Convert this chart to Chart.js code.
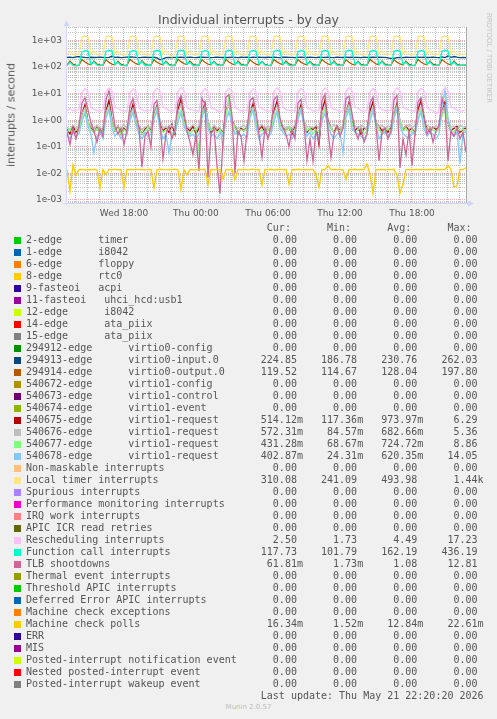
<!DOCTYPE html>
<html>
<head>
<meta charset="utf-8">
<title>Individual interrupts - by day</title>
<script src="https://cdn.jsdelivr.net/npm/chart.js@4.4.1/dist/chart.umd.min.js"></script>
<style>
  body { margin: 0; background: #f0f0f0; width: 497px; height: 719px; position: relative; overflow: hidden; font-family: 'DejaVu Sans', sans-serif; color: #555; }
  #plot { position: absolute; left: 0; top: 0; }
  .abs { position: absolute; white-space: pre; }
  #title { left: 0; width: 497px; top: 12px; line-height: 15px; font-size: 12.5px; text-align: center; }
  #ylabel { left: 11px; top: 115px; font-size: 11px; transform: translate(-50%, -50%) rotate(-90deg); }
  #mark { left: 489px; top: 58px; font-size: 7px; color: #c4c4c4; transform: translate(-50%, -50%) rotate(90deg); }
  #legend { left: 26px; top: 222px; margin: 0; font: 10px/12px 'DejaVu Sans Mono', monospace; color: #555; }
  .box { position: absolute; left: 14px; width: 7px; height: 7px; }
  #munin { left: 0; width: 497px; top: 703px; font-size: 7px; text-align: center; color: #bdbdbd; }
</style>
</head>
<body>
<canvas id="plot" width="497" height="225"></canvas>
<div id="title" class="abs">Individual interrupts - by day</div>
<div id="ylabel" class="abs">interrupts / second</div>
<div id="mark" class="abs">RRDTOOL / TOBI OETIKER</div>
<pre id="legend" class="abs"></pre>
<div id="munin" class="abs">Munin 2.0.57</div>
<script>
// samples every 15 minutes, hours counted from Wed 00:00
const startHour = 13.25;
const stepHours = 0.25;

const xTickHours = [18, 24, 30, 36, 42];
const xTickLabels = ['Wed 18:00', 'Thu 00:00', 'Thu 06:00', 'Thu 12:00', 'Thu 18:00'];
const yTickValues = [1e-3, 1e-2, 1e-1, 1, 10, 100, 1000];
const yTickLabels = ['1e-03', '1e-02', '1e-01', '1e+00', '1e+01', '1e+02', '1e+03'];

const localTimer = [
  302, 390, 298, 305, 300,
  1400, 1420, 1400, 318, 395, 300, 296, 304,
  1410, 1440, 1410, 322, 388, 302, 298, 300,
  1400, 1410, 1400, 315, 392, 297, 301, 299,
  1410, 1430, 1410, 320, 398, 303, 241, 300,
  1420, 1430, 1420, 318, 390, 300, 298, 302,
  1400, 1420, 1400, 325, 395, 304, 299, 301,
  1420, 1440, 1420, 320, 386, 298, 302, 300,
  1400, 1420, 1400, 317, 394, 301, 297, 303,
  1410, 1430, 1410, 322, 390, 299, 300, 298,
  1400, 1415, 1400, 319, 397, 302, 298, 301,
  1410, 1435, 1410, 321, 389, 300, 303, 299,
  1420, 1440, 1420, 318, 393, 297, 301, 300,
  1400, 1425, 1400, 324, 391, 302, 299, 302,
  1410, 1430, 1410, 320, 388, 300, 298, 301,
  1400, 1420, 1400, 316, 396, 303, 300, 299,
  1410, 1435, 1410, 322, 392, 301, 298, 305,
  310
];

const functionCall = [
  114, 150, 116, 112, 115,
  380, 415, 400, 128, 158, 118, 113, 115,
  395, 425, 405, 125, 152, 116, 114, 112,
  385, 418, 398, 130, 160, 115, 117, 113,
  390, 420, 402, 126, 155, 118, 112, 114,
  400, 430, 410, 128, 150, 114, 116, 115,
  385, 415, 395, 124, 157, 117, 113, 116,
  392, 436, 404, 127, 153, 115, 115, 112,
  388, 422, 400, 129, 160, 118, 114, 113,
  396, 428, 406, 125, 151, 116, 112, 115,
  384, 417, 399, 128, 158, 113, 116, 114,
  391, 424, 403, 126, 154, 117, 114, 113,
  398, 431, 407, 130, 156, 115, 113, 116,
  387, 419, 401, 124, 159, 118, 115, 114,
  393, 426, 405, 127, 152, 114, 116, 112,
  389, 421, 398, 129, 157, 116, 113, 115,
  395, 428, 404, 125, 153, 117, 114, 118,
  118
];

const virtio0Input = [
  232, 236, 228, 240, 245,
  238, 230, 226, 234, 229, 231, 236, 233,
  228, 232, 255, 230, 234, 227, 231, 235,
  240, 236, 230, 228, 233, 237, 229, 232,
  234, 220, 187, 205, 226, 231, 228, 233,
  230, 235, 229, 233, 238, 231, 227, 234,
  236, 231, 233, 228, 230, 235, 232, 229,
  233, 229, 236, 231, 227, 234, 230, 236,
  228, 235, 231, 237, 232, 229, 234, 231,
  235, 230, 228, 234, 236, 230, 233, 227,
  231, 236, 232, 229, 235, 233, 228, 234,
  230, 233, 237, 231, 228, 235, 231, 229,
  236, 229, 234, 230, 233, 227, 236, 232,
  229, 234, 231, 236, 230, 233, 222, 212,
  214, 226, 232, 228, 234, 231, 233, 230,
  234, 231, 236, 229, 233, 237, 230, 228,
  240, 226, 262, 232, 250, 236, 228, 233,
  225
];

const virtio0Output = [
  118, 168, 128, 119, 116,
  192, 155, 132, 122, 170, 130, 120, 117,
  188, 150, 130, 121, 165, 128, 119, 116,
  195, 158, 134, 123, 172, 131, 121, 118,
  190, 153, 131, 120, 167, 127, 118, 117,
  198, 160, 135, 124, 169, 129, 120, 116,
  189, 152, 130, 121, 166, 128, 119, 118,
  193, 156, 133, 122, 171, 130, 121, 117,
  187, 151, 129, 120, 164, 126, 118, 115,
  194, 157, 134, 123, 170, 131, 120, 118,
  190, 154, 131, 121, 167, 128, 119, 117,
  192, 155, 132, 122, 169, 129, 120, 116,
  188, 152, 130, 120, 165, 127, 118, 117,
  195, 158, 133, 123, 171, 130, 121, 118,
  189, 153, 131, 121, 166, 128, 119, 116,
  193, 156, 132, 122, 170, 129, 120, 117,
  191, 154, 131, 121, 168, 128, 119, 118,
  119.5
];

const rescheduling = [
  2.3, 2.7, 2.2, 2.4, 2.5,
  11, 15.5, 12, 3.0, 2.6, 2.3, 2.2, 2.4,
  12, 16.5, 13, 3.2, 2.7, 2.4, 2.3, 2.2,
  10.5, 15, 12.5, 2.9, 2.5, 2.2, 2.4, 2.3,
  11.5, 16, 13, 3.1, 2.8, 2.3, 2.2, 2.5,
  12, 17.2, 13.5, 3.0, 2.6, 2.4, 2.3, 2.2,
  11, 15.5, 12, 2.9, 2.7, 2.3, 2.1, 2.4,
  11.8, 16.2, 13, 3.2, 2.6, 2.2, 2.4, 2.3,
  10.8, 15.2, 12.2, 3.0, 2.8, 2.4, 2.2, 2.3,
  12, 16.8, 13.2, 3.1, 2.5, 2.3, 2.4, 2.2,
  11.2, 15.8, 12.6, 2.9, 2.7, 2.2, 2.3, 2.4,
  11.6, 16.4, 13, 3.0, 2.6, 2.4, 2.1, 2.3,
  12.2, 17, 13.4, 3.2, 2.8, 2.3, 2.2, 2.4,
  11, 15.6, 12.4, 2.9, 2.6, 2.2, 2.4, 2.3,
  11.8, 16.6, 13.1, 3.1, 2.7, 2.4, 2.3, 2.2,
  11.4, 16, 12.8, 3.0, 2.5, 2.3, 1.73, 2.4,
  12, 16.8, 13.2, 3.2, 2.8, 2.4, 2.2, 2.3,
  2.5
];

const request675 = [
  0.45, 0.3, 0.6, 0.35, 0.5,
  1.8, 3.8, 0.9, 0.5, 0.35, 0.55, 0.3, 0.45,
  2.2, 5.5, 1.1, 0.4, 0.6, 0.3, 0.5, 0.35,
  1.6, 4.0, 0.8, 0.55, 0.3, 0.45, 0.6, 0.4,
  2.0, 3.5, 0.7, 0.4, 0.5, 0.35, 0.7, 0.3,
  2.5, 6.29, 1.0, 0.5, 0.4, 0.6, 0.3, 0.5,
  1.8, 4.5, 0.8, 0.35, 0.55, 0.4, 0.5, 0.3,
  2.3, 5.0, 1.0, 0.6, 0.3, 0.5, 0.4, 0.55,
  1.9, 4.2, 0.8, 0.45, 0.6, 0.35, 0.5, 0.4,
  2.2, 5.2, 0.9, 0.5, 0.4, 0.55, 0.3, 0.6,
  1.7, 3.8, 0.7, 0.35, 0.5, 0.45, 0.6, 0.12,
  2.4, 5.8, 1.0, 0.5, 0.35, 0.6, 0.4, 0.5,
  2.0, 4.6, 0.9, 0.4, 0.55, 0.3, 0.5, 0.45,
  2.2, 5.0, 0.8, 0.6, 0.4, 0.5, 0.35, 0.55,
  1.8, 4.4, 0.9, 0.45, 0.6, 0.4, 0.5, 0.3,
  2.5, 5.6, 1.1, 0.5, 0.35, 0.55, 0.45, 0.6,
  2.0, 4.8, 0.8, 0.4, 0.5, 0.6, 0.35, 0.45,
  0.514
];

const request676 = [
  0.55, 0.45, 0.65, 0.5, 0.6,
  1.8, 3.0, 0.9, 0.6, 0.5, 0.65, 0.45, 0.55,
  2.0, 3.5, 1.0, 0.5, 0.6, 0.45, 0.7, 0.5,
  1.6, 2.8, 0.8, 0.65, 0.45, 0.55, 0.6, 0.5,
  2.2, 3.2, 1.1, 0.5, 0.6, 0.5, 0.65, 0.45,
  1.9, 4.0, 0.9, 0.55, 0.5, 0.7, 0.45, 0.6,
  2.1, 3.3, 1.0, 0.45, 0.65, 0.5, 0.55, 0.085,
  1.7, 5.36, 0.9, 0.6, 0.5, 0.55, 0.65, 0.5,
  2.3, 3.1, 1.1, 0.5, 0.7, 0.45, 0.6, 0.55,
  1.8, 3.6, 0.8, 0.65, 0.5, 0.6, 0.45, 0.7,
  2.0, 2.9, 1.0, 0.55, 0.6, 0.5, 0.65, 0.5,
  1.9, 3.4, 0.9, 0.5, 0.7, 0.55, 0.5, 0.6,
  2.2, 3.8, 1.2, 0.6, 0.5, 0.65, 0.55, 0.45,
  1.7, 3.0, 0.9, 0.55, 0.65, 0.5, 0.6, 0.55,
  2.1, 3.5, 1.0, 0.5, 0.6, 0.7, 0.5, 0.65,
  1.8, 3.2, 0.8, 0.65, 0.55, 0.5, 0.6, 0.5,
  2.0, 3.7, 1.1, 0.55, 0.6, 0.45, 0.65, 0.55,
  0.572
];

const request677 = [
  0.35, 0.5, 0.3, 0.45, 0.4,
  1.2, 2.2, 0.8, 0.45, 0.35, 0.5, 0.3, 0.4,
  1.5, 2.8, 0.7, 0.4, 0.5, 0.3, 0.45, 0.35,
  1.1, 2.0, 0.9, 0.5, 0.3, 0.4, 0.55, 0.35,
  1.4, 2.5, 0.6, 0.35, 0.45, 0.5, 0.3, 0.4,
  1.3, 2.4, 0.8, 0.45, 0.3, 0.4, 0.5, 0.069,
  1.6, 3.0, 0.7, 0.4, 0.5, 0.35, 0.45, 0.3,
  1.2, 8.86, 0.9, 0.5, 0.35, 0.45, 0.4, 0.5,
  1.5, 2.6, 0.8, 0.35, 0.45, 0.3, 0.5, 0.4,
  1.3, 2.3, 0.7, 0.45, 0.4, 0.55, 0.35, 0.45,
  1.4, 2.7, 0.9, 0.4, 0.5, 0.3, 0.45, 0.35,
  1.2, 2.5, 0.6, 0.5, 0.35, 0.45, 0.4, 0.5,
  1.6, 2.9, 0.8, 0.35, 0.45, 0.5, 0.3, 0.4,
  1.3, 2.2, 0.7, 0.45, 0.3, 0.4, 0.5, 0.35,
  1.5, 2.6, 0.9, 0.4, 0.5, 0.35, 0.45, 0.3,
  1.2, 2.4, 0.6, 0.5, 0.4, 0.45, 0.35, 0.5,
  1.4, 2.8, 0.8, 0.45, 0.35, 0.5, 0.4, 0.45,
  0.431
];

const request678 = [
  0.3, 0.2, 0.35, 0.25, 0.3,
  0.9, 1.8, 0.6, 0.3, 0.06, 0.25, 0.35, 0.2,
  1.2, 2.5, 0.5, 0.25, 0.35, 0.2, 0.3, 0.28,
  1.0, 2.0, 0.7, 0.3, 0.2, 0.35, 0.25, 0.3,
  1.1, 2.2, 0.5, 0.2, 0.3, 0.06, 0.28, 0.35,
  0.9, 1.9, 0.6, 0.35, 0.25, 0.3, 0.2, 0.3,
  1.3, 2.8, 0.5, 0.25, 0.3, 0.2, 0.35, 0.25,
  1.0, 2.1, 0.7, 0.3, 0.35, 0.25, 0.3, 0.2,
  1.2, 2.4, 0.6, 0.2, 0.3, 0.35, 0.25, 0.3,
  0.9, 2.0, 0.5, 0.35, 0.25, 0.3, 0.2, 0.35,
  1.1, 2.3, 0.7, 0.25, 0.35, 0.2, 0.3, 0.25,
  1.0, 1.8, 0.6, 0.3, 0.2, 0.3, 0.35, 0.058,
  1.3, 2.6, 0.5, 0.35, 0.3, 0.25, 0.2, 0.3,
  0.9, 2.2, 0.7, 0.2, 0.3, 0.35, 0.25, 0.3,
  1.2, 2.5, 0.6, 0.3, 0.25, 0.2, 0.35, 0.28,
  1.0, 2.0, 0.5, 0.25, 0.35, 0.3, 0.2, 0.3,
  3.5, 14.05, 1.2, 0.3, 0.25, 0.35, 0.024, 0.3,
  0.403
];

const tlbShootdowns = [
  0.35, 0.12, 0.5, 0.2, 0.6,
  4.5, 7.0, 2.5, 0.8, 0.4, 0.15, 0.5, 0.25,
  6.0, 12.81, 3.5, 0.6, 0.3, 0.5, 0.12, 0.4,
  3.5, 6.5, 1.8, 0.5, 0.017, 0.25, 0.4, 0.1,
  4.0, 5.5, 0.8, 0.035, 0.3, 0.6, 0.2, 0.45,
  5.0, 8.5, 2.0, 0.4, 0.15, 0.05, 0.3, 0.012,
  6.5, 4.0, 0.007, 0.3, 0.5, 0.02, 0.00173, 0.15,
  7.5, 9.0, 1.5, 0.01, 0.4, 0.25, 0.03, 0.35,
  5.5, 7.0, 2.2, 0.3, 0.04, 0.5, 0.2, 0.6,
  6.0, 8.0, 1.2, 0.5, 0.3, 0.1, 0.45, 0.2,
  4.5, 6.0, 0.8, 0.03, 0.2, 0.028, 0.4, 0.15,
  5.5, 9.5, 0.4, 0.04, 0.3, 0.6, 0.25, 0.5,
  6.5, 8.0, 1.8, 0.4, 0.2, 0.5, 0.15, 0.3,
  4.5, 7.5, 0.6, 0.03, 0.35, 0.5, 0.2, 0.4,
  6.0, 8.5, 0.016, 0.2, 0.05, 0.4, 0.02, 0.3,
  5.0, 7.0, 1.5, 0.3, 0.5, 0.15, 0.4, 0.6,
  6.5, 3.0, 0.03, 0.4, 0.25, 0.5, 0.2, 0.35,
  0.0618
];

const machineCheckPolls = [
  0.0138, 0.0021, 0.0210, 0.0085, 0.0139,
  0.0142, 0.0136, 0.0140, 0.0137, 0.0143, 0.0135, 0.0028, 0.0139,
  0.0092, 0.0141, 0.0137, 0.0144, 0.0136, 0.0140, 0.0030, 0.0138,
  0.0141, 0.0136, 0.0145, 0.0138, 0.0140, 0.0135, 0.0142, 0.0139,
  0.0028, 0.0137, 0.0143, 0.0139, 0.0136, 0.0141, 0.0138, 0.0144,
  0.0137, 0.0024, 0.0140, 0.0088, 0.0142, 0.0136, 0.0139, 0.0141,
  0.0138, 0.0143, 0.0037, 0.0140, 0.0136, 0.0142, 0.0139, 0.0060,
  0.0141, 0.0137, 0.0143, 0.0058, 0.0140, 0.0138, 0.0142, 0.0136,
  0.0139, 0.0144, 0.0137, 0.0141, 0.0037, 0.0140, 0.0138, 0.0143,
  0.0136, 0.0140, 0.0142, 0.0138, 0.0141, 0.0040, 0.0139, 0.0137,
  0.0143, 0.0138, 0.0140, 0.0136, 0.0142, 0.0139, 0.0090, 0.0030,
  0.0141, 0.0137, 0.0200, 0.0139, 0.0142, 0.0138, 0.0140, 0.0136,
  0.0060, 0.0141, 0.0138, 0.0143, 0.0137, 0.0140, 0.0139, 0.0226,
  0.0095, 0.0018, 0.0141, 0.0138, 0.0142, 0.0137, 0.0140, 0.0139,
  0.0143, 0.0085, 0.0018, 0.0040, 0.0138, 0.0141, 0.0137, 0.0140,
  0.0142, 0.0138, 0.0141, 0.0136, 0.0143, 0.0139, 0.0140, 0.0137,
  0.0141, 0.0138, 0.0200, 0.0139, 0.0030, 0.0035, 0.0140, 0.0143,
  0.0163
];

// legend: name, colour, cur, min, avg, max
const legendNames = [
  '2-edge      timer', '1-edge      i8042', '6-edge      floppy', '8-edge      rtc0',
  '9-fasteoi   acpi', '11-fasteoi   uhci_hcd:usb1', '12-edge      i8042', '14-edge      ata_piix',
  '15-edge      ata_piix', '294912-edge      virtio0-config', '294913-edge      virtio0-input.0',
  '294914-edge      virtio0-output.0', '540672-edge      virtio1-config', '540673-edge      virtio1-control',
  '540674-edge      virtio1-event', '540675-edge      virtio1-request', '540676-edge      virtio1-request',
  '540677-edge      virtio1-request', '540678-edge      virtio1-request', 'Non-maskable interrupts',
  'Local timer interrupts', 'Spurious interrupts', 'Performance monitoring interrupts', 'IRQ work interrupts',
  'APIC ICR read retries', 'Rescheduling interrupts', 'Function call interrupts', 'TLB shootdowns',
  'Thermal event interrupts', 'Threshold APIC interrupts', 'Deferred Error APIC interrupts',
  'Machine check exceptions', 'Machine check polls', 'ERR', 'MIS', 'Posted-interrupt notification event',
  'Nested posted-interrupt event', 'Posted-interrupt wakeup event'
];
const legendColors = [
  '#00CC00', '#0066B3', '#FF8000', '#FFCC00', '#330099', '#990099', '#CCFF00', '#FF0000', '#808080',
  '#008F00', '#00487D', '#B35A00', '#B38F00', '#6B006B', '#8FB300', '#B30000', '#BEBEBE', '#80FF80',
  '#80C9FF', '#FFC080', '#FFE680', '#AA80FF', '#EE00CC', '#FF8080', '#666600', '#FFBFFF', '#00FFCC',
  '#CC6699', '#999900', '#00CC00', '#0066B3', '#FF8000', '#FFCC00', '#330099', '#990099', '#CCFF00',
  '#FF0000', '#808080'
];
const Z = '0.00';
const curValues = [Z, Z, Z, Z, Z, Z, Z, Z, Z, Z, '224.85', '119.52', Z, Z, Z, '514.12m', '572.31m', '431.28m', '402.87m',
  Z, '310.08', Z, Z, Z, Z, '2.50', '117.73', '61.81m', Z, Z, Z, Z, '16.34m', Z, Z, Z, Z, Z];
const minValues = [Z, Z, Z, Z, Z, Z, Z, Z, Z, Z, '186.78', '114.67', Z, Z, Z, '117.36m', '84.57m', '68.67m', '24.31m',
  Z, '241.09', Z, Z, Z, Z, '1.73', '101.79', '1.73m', Z, Z, Z, Z, '1.52m', Z, Z, Z, Z, Z];
const avgValues = [Z, Z, Z, Z, Z, Z, Z, Z, Z, Z, '230.76', '128.04', Z, Z, Z, '973.97m', '682.66m', '724.72m', '620.35m',
  Z, '493.98', Z, Z, Z, Z, '4.49', '162.19', '1.08', Z, Z, Z, Z, '12.84m', Z, Z, Z, Z, Z];
const maxValues = [Z, Z, Z, Z, Z, Z, Z, Z, Z, Z, '262.03', '197.80', Z, Z, Z, '6.29', '5.36', '8.86', '14.05',
  Z, '1.44k', Z, Z, Z, Z, '17.23', '436.19', '12.81', Z, Z, Z, Z, '22.61m', Z, Z, Z, Z, Z];
const lastUpdate = 'Last update: Thu May 21 22:20:20 2026';

// plotted series: values and their legend row
const plotted = [
  [virtio0Input, 10], [virtio0Output, 11], [request675, 15], [request676, 16], [request677, 17],
  [request678, 18], [localTimer, 20], [rescheduling, 25], [functionCall, 26], [tlbShootdowns, 27],
  [machineCheckPolls, 32]
];

const xMin = 13.17, xMax = 46.5;
const yMin = 7.7e-4, yMax = 3220;
const minorGrid = 'rgba(143,143,143,0.55)';
const majorGrid = 'rgba(222,79,79,0.5)';
const axisColor = '#CFD6F8';

// grid positions: every hour, every value 1..9 per decade
const xGridHours = [];
for (let h = Math.ceil(xMin); h <= xMax; h++) xGridHours.push(h);
const yGridValues = [];
for (let e = -4; e <= 3; e++) {
  for (let m = 1; m <= 9; m++) {
    const v = m * Math.pow(10, e);
    if (v < yMin || v > yMax) continue;
    const major = yTickValues.find(t => Math.abs(t - v) / v < 1e-9);
    yGridValues.push(m === 1 && major !== undefined ? major : v);
  }
}

function field(s) {
  const suf = /[mk]$/.test(s) ? s.slice(-1) : ' ';
  const num = suf === ' ' ? s : s.slice(0, -1);
  return num.padStart(6) + suf;
}

const lines = [' '.repeat(40) + 'Cur:      Min:      Avg:      Max:'];
legendNames.forEach((name, i) => {
  lines.push(name.padEnd(39) + field(curValues[i]) + '   ' + field(minValues[i]) + '   ' +
    field(avgValues[i]) + '   ' + field(maxValues[i]));
  const box = document.createElement('div');
  box.className = 'box';
  box.style.top = (240 + 12 * i - 3) + 'px';
  box.style.background = legendColors[i];
  document.body.appendChild(box);
});
lines.push(' '.repeat(39) + lastUpdate);
document.getElementById('legend').textContent = lines.join('\n');

const rrdFrame = {
  id: 'rrdFrame',
  beforeDraw(chart) {
    const { ctx, chartArea: a } = chart;
    ctx.save();
    ctx.fillStyle = '#ffffff';
    ctx.fillRect(a.left, a.top, a.right - a.left, a.bottom - a.top);
    ctx.restore();
  },
  afterDraw(chart) {
    const { ctx, chartArea: a } = chart;
    ctx.save();
    ctx.lineWidth = 1;
    ctx.strokeStyle = '#a8a8a8';
    ctx.beginPath();
    ctx.moveTo(a.right + 0.5, a.top);
    ctx.lineTo(a.right + 0.5, a.bottom);
    ctx.stroke();
    ctx.strokeStyle = axisColor;
    ctx.fillStyle = axisColor;
    ctx.beginPath();
    ctx.moveTo(a.left + 0.5, a.bottom + 3);
    ctx.lineTo(a.left + 0.5, a.top - 3);
    ctx.moveTo(a.left - 3, a.bottom + 0.5);
    ctx.lineTo(a.right + 4, a.bottom + 0.5);
    ctx.stroke();
    ctx.beginPath();
    ctx.moveTo(a.left + 0.5, a.top - 7);
    ctx.lineTo(a.left - 2.5, a.top - 1);
    ctx.lineTo(a.left + 3.5, a.top - 1);
    ctx.closePath();
    ctx.fill();
    ctx.beginPath();
    ctx.moveTo(a.right + 8, a.bottom + 0.5);
    ctx.lineTo(a.right + 2, a.bottom - 2.5);
    ctx.lineTo(a.right + 2, a.bottom + 3.5);
    ctx.closePath();
    ctx.fill();
    ctx.restore();
  }
};

new Chart(document.getElementById('plot'), {
  type: 'line',
  data: {
    datasets: plotted.map(([values, row]) => ({
      label: legendNames[row],
      data: values.map((v, i) => ({ x: startHour + i * stepHours, y: v })),
      borderColor: legendColors[row],
      borderWidth: 1.3,
      pointRadius: 0,
      tension: 0,
      fill: false,
      order: -row
    }))
  },
  options: {
    responsive: false,
    animation: false,
    devicePixelRatio: 1,
    layout: { padding: { left: 0, top: 27, right: 31, bottom: 0 } },
    plugins: { legend: { display: false }, tooltip: { enabled: false } },
    scales: {
      x: {
        type: 'linear',
        min: xMin,
        max: xMax,
        afterFit: s => { s.height = 22; },
        afterBuildTicks: s => { s.ticks = xGridHours.map(h => ({ value: h })); },
        grid: {
          color: c => (c.tick && c.tick.value % 3 === 0) ? majorGrid : minorGrid,
          drawTicks: false,
          lineWidth: 1
        },
        border: { display: false, dash: [1, 1] },
        ticks: {
          autoSkip: false,
          maxRotation: 0,
          padding: 5,
          color: '#555',
          font: { family: 'DejaVu Sans', size: 9 },
          callback: v => { const k = xTickHours.indexOf(v); return k >= 0 ? xTickLabels[k] : ''; }
        }
      },
      y: {
        type: 'logarithmic',
        min: yMin,
        max: yMax,
        afterFit: s => { s.width = 66; },
        afterBuildTicks: s => { s.ticks = yGridValues.map(v => ({ value: v })); },
        grid: {
          color: c => (c.tick && yTickValues.indexOf(c.tick.value) >= 0) ? majorGrid : minorGrid,
          drawTicks: false,
          lineWidth: 1
        },
        border: { display: false, dash: [1, 1] },
        ticks: {
          autoSkip: false,
          padding: 4,
          color: '#555',
          font: { family: 'DejaVu Sans', size: 9 },
          callback: v => { const k = yTickValues.indexOf(v); return k >= 0 ? yTickLabels[k] : ''; }
        }
      }
    }
  },
  plugins: [rrdFrame]
});
</script>
</body>
</html>
